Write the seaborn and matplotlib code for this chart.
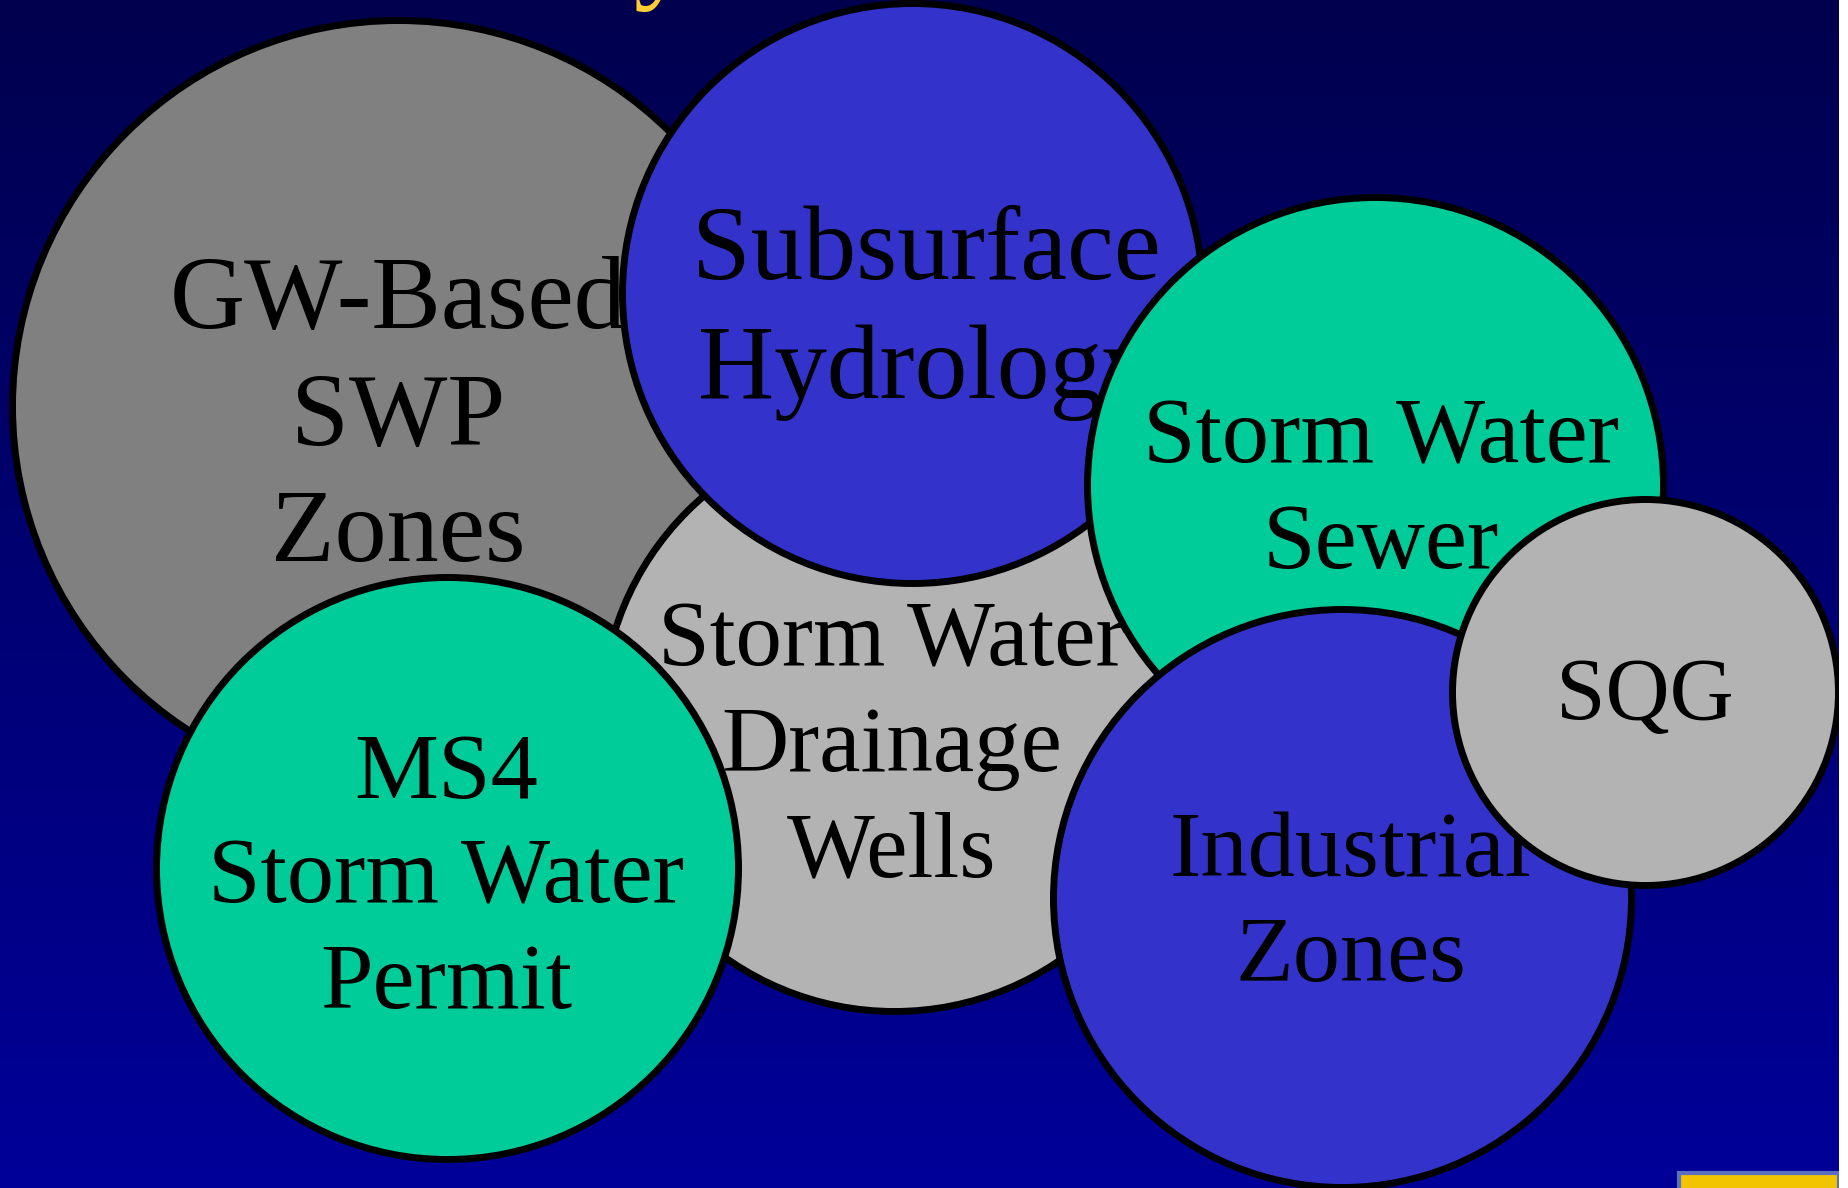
import numpy as np
import pandas as pd
import matplotlib.pyplot as plt
from matplotlib.colors import LinearSegmentedColormap
from matplotlib.patches import Rectangle
import seaborn as sns

# 圆的数据 (像素坐标, 原图 1848x1188)
labels = ["GW-Based\nSWP\nZones", "Storm Water\nDrainage\nWells", "Subsurface\nHydrology",
          "MS4\nStorm Water\nPermit", "Storm Water\nSewer", "Industrial\nZones", "SQG"]
center_x = [398, 894, 912, 447, 1375, 1342, 1645]
center_y = [406, 718, 293, 868, 485, 898, 692]
radius = [386, 293, 290, 291, 288, 289, 193]
fill_colors = ["#808080", "#B3B3B3", "#3333CC", "#00CC99", "#00CC99", "#3333CC", "#B3B3B3"]

# 文字位置 (最后一行基线)
text_x = [398, 892, 926, 446, 1381, 1351, 1645]
text_y = [561, 876, 398, 1008, 568, 981, 719]
font_size = [75, 67, 76, 68, 68, 68, 64]

W, H, DPI = 1848, 1188, 100

sns.set_theme(style="white")
plt.rcParams['font.family'] = ['Liberation Serif', 'DejaVu Serif']

df = pd.DataFrame({"label": labels, "x": center_x, "y": center_y, "r": radius,
                   "color": fill_colors, "tx": text_x, "ty": text_y, "fs": font_size})

fig = plt.figure(figsize=(W / DPI, H / DPI), dpi=DPI)
ax = fig.add_axes([0, 0, 1, 1])
ax.set_xlim(0, W)
ax.set_ylim(H, 0)
ax.set_axis_off()

# 背景渐变
bg_cmap = LinearSegmentedColormap.from_list("bg", ["#00004E", "#000099"])
grad = np.linspace(0, 1, 256).reshape(-1, 1)
ax.imshow(grad, cmap=bg_cmap, extent=[0, W, H, 0], aspect='auto', zorder=0)

# 顶部标题残留的 "y"
ax.text(662, -12, "y", fontsize=82, color="#FFCC33", ha='center', va='baseline',
        clip_on=True, zorder=1)

# 逐个画圆 + 文字, 保证叠放顺序
pt_per_px = 72 / DPI
for i, row in df.iterrows():
    size = (2 * row["r"] * pt_per_px) ** 2
    sns.scatterplot(data=df.iloc[[i]], x="x", y="y", ax=ax, s=size, color=row["color"],
                    edgecolor="black", linewidth=5, zorder=2 + 2 * i, legend=False)
    ax.text(row["tx"], row["ty"], row["label"], fontsize=row["fs"], ha='center',
            va='baseline', multialignment='center', linespacing=1.31, color='black',
            zorder=3 + 2 * i)

ax.set_xlim(0, W)
ax.set_ylim(H, 0)
ax.set_xlabel("")
ax.set_ylabel("")

# 右下角小图 & 右侧白边
ax.add_patch(Rectangle((1679, 1173), 160, 20, facecolor="#F2C400", edgecolor="#5A6FC0",
                       linewidth=3, zorder=40))
ax.add_patch(Rectangle((1839, 0), 9, H, facecolor="white", edgecolor="none", zorder=50))

fig.savefig("out.png", dpi=DPI)
